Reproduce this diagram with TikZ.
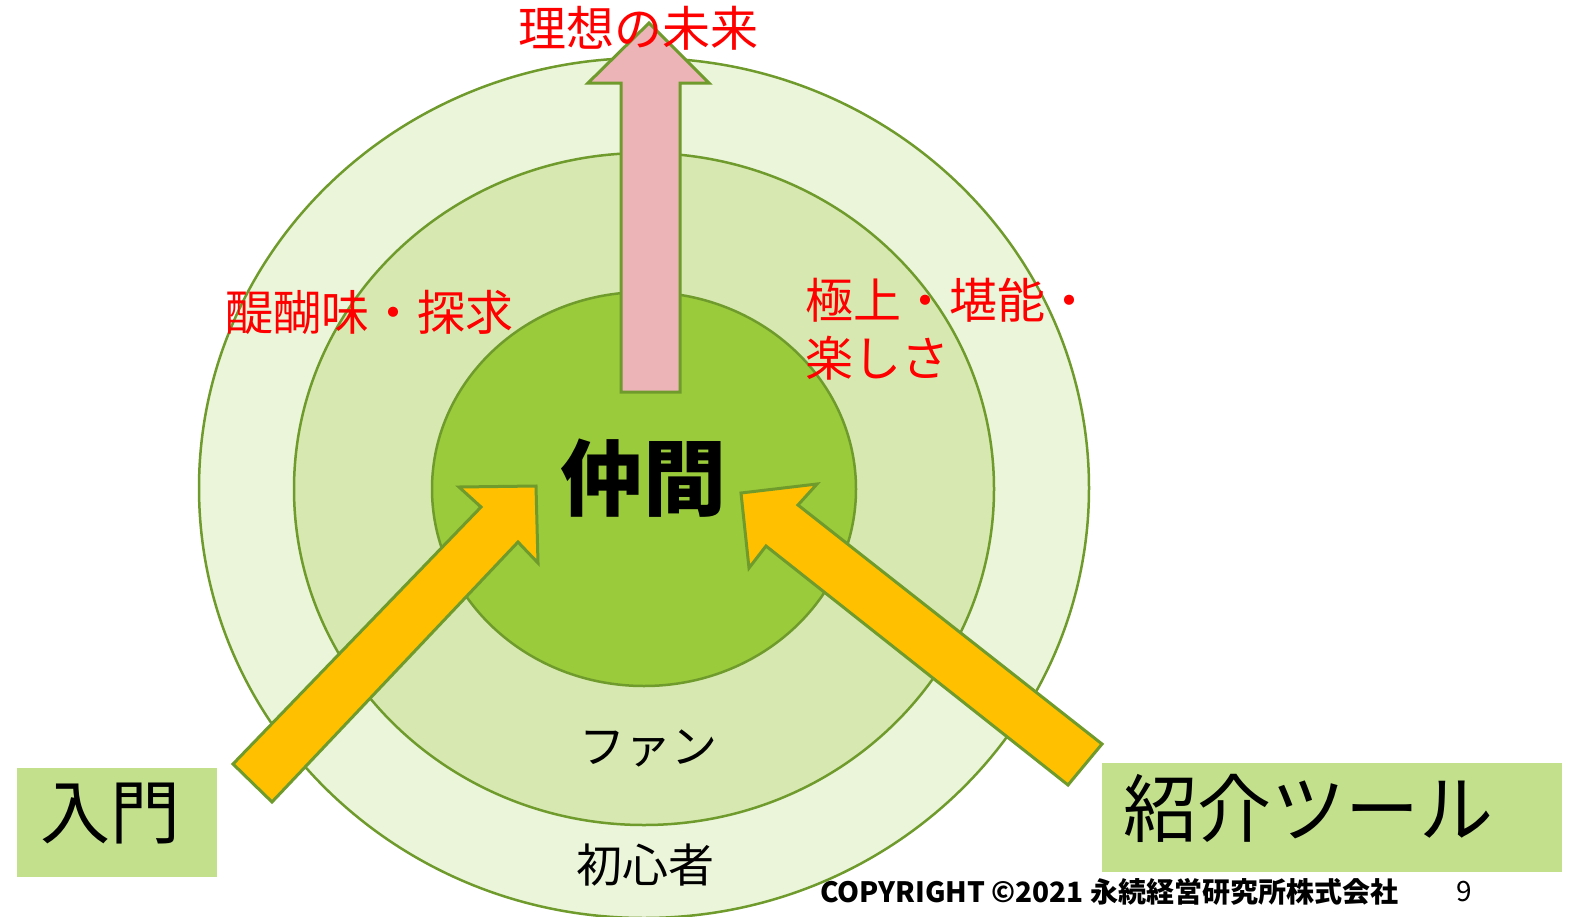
\documentclass[tikz,border=0pt]{standalone}
\usepackage{fontspec}
\setmainfont{Noto Sans CJK JP}
\definecolor{ringout}{HTML}{EBF5DA}
\definecolor{ringmid}{HTML}{D7E9B1}
\definecolor{ringin}{HTML}{9ACB3A}
\definecolor{ringline}{HTML}{6F9A2C}
\definecolor{tagfill}{HTML}{C3E08C}
\definecolor{futurepink}{HTML}{EDB4B8}
\definecolor{pushgold}{HTML}{FFC000}
\tikzset{
  ring/.style={draw=ringline,line width=2.5pt},
  blockarrow/.style={draw=ringline,line width=3pt,line join=miter},
  redlabel/.style={text=red,inner sep=0pt,font=\fontsize{48}{58}\selectfont},
  ringlabel/.style={inner sep=0pt,font=\fontsize{46}{56}\selectfont},
  tag/.style={fill=tagfill,draw=none,anchor=north west,minimum height=109,inner sep=0pt},
  taglabel/.style={inner sep=0pt,anchor=west}
}
\begin{document}
\begin{tikzpicture}[x=1pt,y=-1pt]
  \useasboundingbox (0,0) rectangle (1569,916);
  \clip (0,0) rectangle (1569,916);
  % rings
  \draw[ring,fill=ringout] (644,488) ellipse [x radius=445,y radius=430];
  \draw[ring,fill=ringmid] (644,489) ellipse [x radius=350,y radius=336];
  \draw[ring,fill=ringin] (644,489) ellipse [x radius=212,y radius=197];

  % arrow to the future
  \draw[blockarrow,fill=futurepink] (621,392) -- (621,83) -- (588,83) -- (649,23)
    -- (709,83) -- (680,83) -- (680,392) -- cycle;

  % arrows into the core
  \draw[blockarrow,fill=pushgold] (233,764) -- (481,507) -- (459,487) -- (536,486)
    -- (538,563) -- (518,542) -- (272,802) -- cycle;
  \draw[blockarrow,fill=pushgold] (1102,744) -- (798,505) -- (817,484) -- (741,493)
    -- (749,568) -- (766,546) -- (1068,785) -- cycle;

  % labels
  \node[redlabel] (future) at (638,28) {理想の未来};
  \node[redlabel] (depth) at (369,312) {醍醐味・探求};
  \node[redlabel,anchor=north west,align=left] (joy) at (805,278) {極上・堪能・\\楽しさ};
  \node[inner sep=0pt,font=\fontsize{83}{90}\selectfont\bfseries] (core) at (643,478) {仲間};
  \node[ringlabel] (fan) at (648,748) {ファン};
  \node[ringlabel] (novice) at (645,865) {初心者};

  % tags
  \node[tag,minimum width=200] (entrybox) at (17,768) {};
  \node[taglabel,font=\fontsize{70}{76}\selectfont] (entry) at ([xshift=23,yshift=9]entrybox.west) {入門};
  \node[tag,minimum width=460] (toolbox) at (1102,763) {};
  \node[taglabel,font=\fontsize{74}{80}\selectfont] (tool) at ([xshift=21,yshift=9]toolbox.west) {紹介ツール};

  % footer
  \node[inner sep=0pt,anchor=west,font=\fontsize{28}{30}\selectfont\bfseries] (copy) at (820,892) {COPYRIGHT ©2021 永続経営研究所株式会社};
  \node[inner sep=0pt,font=\fontsize{28}{30}\selectfont] (page) at (1464,892) {9};
\end{tikzpicture}
\end{document}
